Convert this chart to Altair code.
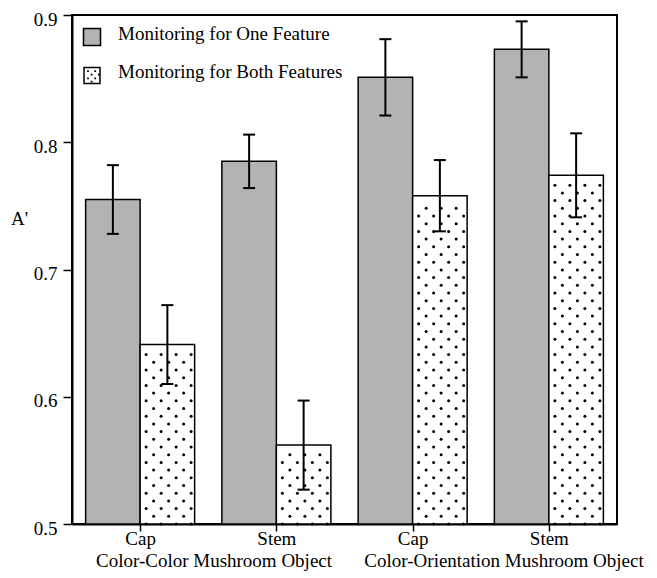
import altair as alt
import pandas as pd

# ---------------- data ----------------
groups = ["Color-Color Mushroom Object", "Color-Orientation Mushroom Object"]
parts = ["Cap", "Stem", "Cap", "Stem"]
series = ["Monitoring for One Feature", "Monitoring for Both Features"]
one_feature = [0.755, 0.785, 0.851, 0.873]
one_err = [0.027, 0.021, 0.030, 0.022]
both_features = [0.641, 0.562, 0.758, 0.774]
both_err = [0.031, 0.035, 0.028, 0.033]
y_ticks = [0.5, 0.6, 0.7, 0.8, 0.9]

# ---------------- layout ----------------
W, H = 545, 509
XMIN, XMAX = 0.0, 4.0
YMIN, YMAX = 0.5, 0.9
BW = 0.4  # bar width in band units
px_x = W / (XMAX - XMIN)
px_y = H / (YMAX - YMIN)
FONT = "Liberation Serif, Times New Roman, Times, serif"
FS = 19
GRAY = "#b3b3b3"

bars = []
errs = []
for i in range(4):
    c = i + 0.5
    bars.append(dict(x0=c - BW, x1=c, v=one_feature[i], s=series[0]))
    bars.append(dict(x0=c, x1=c + BW, v=both_features[i], s=series[1]))
    errs.append(dict(xc=c - BW / 2, lo=one_feature[i] - one_err[i], hi=one_feature[i] + one_err[i]))
    errs.append(dict(xc=c + BW / 2, lo=both_features[i] - both_err[i], hi=both_features[i] + both_err[i]))
bars = pd.DataFrame(bars)
errs = pd.DataFrame(errs)

# dot texture of the "both features" bars, derived from their values
dots = []
for i, v in enumerate(both_features):
    left = i + 0.5
    top_px = (v - YMIN) * px_y
    k = 0
    while k * 7.7 <= top_px - 5:
        offs = [6, 21, 36, 51] if k % 2 == 0 else [13.5, 28.5, 43.5]
        for o in offs:
            dots.append(dict(dx=left + o / px_x, dy=YMIN + k * 7.7 / px_y))
        k += 1
dots = pd.DataFrame(dots)

xs = alt.Scale(domain=[XMIN, XMAX], nice=False, zero=False)
ys = alt.Scale(domain=[YMIN, YMAX], nice=False, zero=False)
xaxis = alt.Axis(values=[0.5, 1.5, 2.5, 3.5],
                 labelExpr="(datum.value < 1 || (datum.value > 2 && datum.value < 3)) ? 'Cap' : 'Stem'",
                 title=None, grid=False, tickSize=7, tickWidth=1.5, tickColor="black",
                 domainColor="black", domainWidth=2, labelFont=FONT, labelFontSize=FS,
                 labelColor="black", labelPadding=13, labelBaseline="alphabetic")
yaxis = alt.Axis(values=y_ticks, format=".1f", title="A'", grid=False, tickSize=9,
                 tickWidth=1.5, tickColor="black", domainColor="black", domainWidth=2,
                 labelFont=FONT, labelFontSize=FS, labelColor="black", labelPadding=6,
                 labelBaseline="alphabetic", labelOffset=10,
                 titleAngle=0, titleFont=FONT, titleFontSize=FS, titleFontWeight="normal",
                 titleColor="black", titleX=-53, titleY=209, titleAlign="center",
                 titleBaseline="alphabetic")


def X(f):
    return alt.X(f, type="quantitative", scale=xs, axis=xaxis)


def Y(f):
    return alt.Y(f, type="quantitative", scale=ys, axis=yaxis)


gray_bars = alt.Chart(bars[bars.s == series[0]]).mark_bar(
    fill=GRAY, stroke="black", strokeWidth=1.5).encode(
    x=X("x0"), x2="x1", y=Y("v"), y2=alt.datum(YMIN))
dot_bars = alt.Chart(bars[bars.s == series[1]]).mark_bar(
    fill="white", stroke="black", strokeWidth=1.5).encode(
    x=X("x0"), x2="x1", y=Y("v"), y2=alt.datum(YMIN))
dot_marks = alt.Chart(dots).mark_circle(size=9, color="black", opacity=1).encode(
    x=X("dx"), y=Y("dy"))
err_rule = alt.Chart(errs).mark_rule(color="black", strokeWidth=2).encode(
    x=X("xc"), y=Y("lo"), y2="hi")
err_hi = alt.Chart(errs).mark_tick(orient="horizontal", size=12, thickness=2,
                                   color="black", opacity=1).encode(x=X("xc"), y=Y("hi"))
err_lo = alt.Chart(errs).mark_tick(orient="horizontal", size=12, thickness=2,
                                   color="black", opacity=1).encode(x=X("xc"), y=Y("lo"))

# legend
leg_sq1 = alt.Chart(pd.DataFrame({"s": [series[0]]})).mark_square(
    size=289, fill=GRAY, stroke="black", strokeWidth=1.5, opacity=1).encode(
    x=alt.value(20), y=alt.value(22))
leg_sq2 = alt.Chart(pd.DataFrame({"s": [series[1]]})).mark_square(
    size=256, fill="white", stroke="black", strokeWidth=1.5, opacity=1).encode(
    x=alt.value(20), y=alt.value(60.5))
dot_path = " ".join(
    f"M{x - 0.11:.2f},{y - 0.11:.2f}h0.22v0.22h-0.22Z"
    for x, y in [(-0.5, -0.55), (0.4, -0.55), (-0.05, -0.1), (0.85, -0.1),
                 (-0.5, 0.35), (0.4, 0.35), (-0.05, 0.78)])
leg_dots = alt.Chart(pd.DataFrame({"s": [series[1]]})).mark_point(
    shape=dot_path, size=256, filled=True, fill="black", strokeWidth=0, opacity=1).encode(
    x=alt.value(20), y=alt.value(60.5))
leg_t1 = alt.Chart(pd.DataFrame({"s": [series[0]]})).mark_text(
    align="left", baseline="alphabetic", font=FONT, fontSize=FS, color="black").encode(
    x=alt.value(46), y=alt.value(25), text="s:N")
leg_t2 = alt.Chart(pd.DataFrame({"s": [series[1]]})).mark_text(
    align="left", baseline="alphabetic", font=FONT, fontSize=FS, color="black").encode(
    x=alt.value(46), y=alt.value(63), text="s:N")

grp1 = alt.Chart(pd.DataFrame({"g": [groups[0]]})).mark_text(
    align="center", baseline="alphabetic", font=FONT, fontSize=FS, color="black").encode(
    x=alt.value(142), y=alt.value(H + 43), text="g:N")
grp2 = alt.Chart(pd.DataFrame({"g": [groups[1]]})).mark_text(
    align="center", baseline="alphabetic", font=FONT, fontSize=FS, color="black").encode(
    x=alt.value(432), y=alt.value(H + 43), text="g:N")

chart = alt.layer(
    gray_bars, dot_bars, dot_marks, err_rule, err_hi, err_lo,
    leg_sq1, leg_sq2, leg_dots, leg_t1, leg_t2, grp1, grp2
).properties(
    width=W, height=H,
    autosize=alt.AutoSizeParams(type="none"),
    padding={"left": 64, "top": 7, "right": 30, "bottom": 50},
    background="white",
).configure_view(stroke="black", strokeWidth=2)

chart.save("out.html", embed_options={"renderer": "svg", "actions": False})
